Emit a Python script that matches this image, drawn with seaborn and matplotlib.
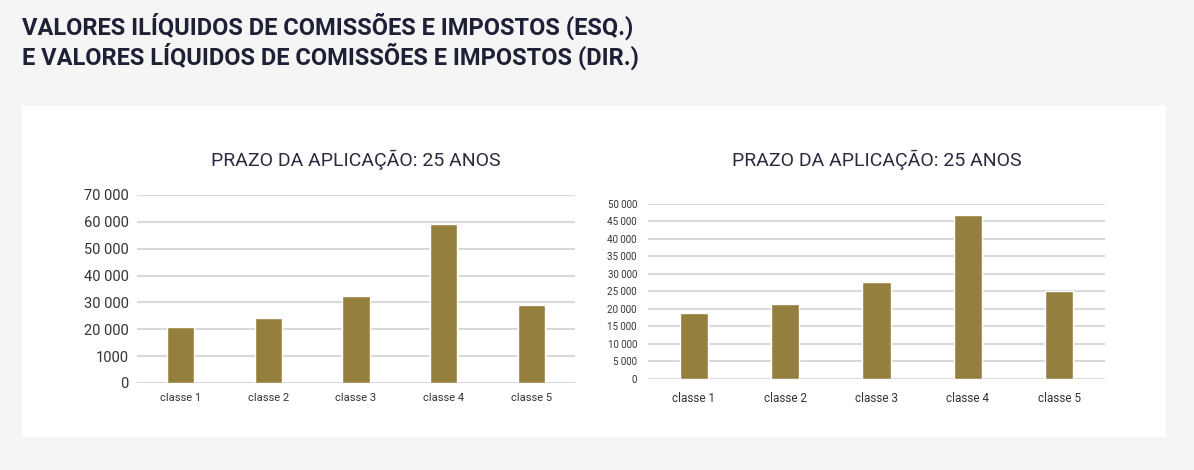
import matplotlib
matplotlib.use('Agg')
import matplotlib.pyplot as plt
import seaborn as sns
import pandas as pd
from matplotlib.patches import Rectangle

# dados
classes = ['classe 1', 'classe 2', 'classe 3', 'classe 4', 'classe 5']
iliquidos = [20800, 24100, 32300, 59100, 29200]
liquidos = [18700, 21300, 27700, 46800, 25200]

ticks_esq = [0, 10000, 20000, 30000, 40000, 50000, 60000, 70000]
labels_esq = ['0', '1000', '20 000', '30 000', '40 000', '50 000', '60 000', '70 000']
ticks_dir = list(range(0, 50001, 5000))
labels_dir = ['0', '5 000', '10 000', '15 000', '20 000', '25 000', '30 000',
              '35 000', '40 000', '45 000', '50 000']

titulo = 'VALORES ILÍQUIDOS DE COMISSÕES E IMPOSTOS (ESQ.)\nE VALORES LÍQUIDOS DE COMISSÕES E IMPOSTOS (DIR.)'
subtitulo = 'PRAZO DA APLICAÇÃO: 25 ANOS'

sns.set_theme(style='white')
plt.rcParams['font.family'] = ['Roboto', 'DejaVu Sans']

cor_barra = '#957f3e'
cor_texto = '#2a2c3e'
cor_grelha = '#d9d9d9'

fig = plt.figure(figsize=(11.94, 4.70), dpi=100)
fig.patch.set_facecolor('#f5f5f5')
fig.patches.append(Rectangle((22 / 1194, 1 - 437 / 470), (1166 - 22) / 1194, 331 / 470,
                             transform=fig.transFigure, facecolor='white',
                             edgecolor='none', zorder=-5))

fig.text(22 / 1194, 1 - 13 / 470, titulo, ha='left', va='top', fontsize=17,
         fontweight='bold', color='#1e2036', linespacing=1.1)

ax1 = fig.add_axes([137 / 1194, 1 - 383 / 470, (575 - 137) / 1194, (383 - 195) / 470])
ax2 = fig.add_axes([648 / 1194, 1 - 379 / 470, (1105 - 648) / 1194, (379 - 203.7) / 470])

# eixo, valores, ticks, rótulos, tamanho y, tamanho x, máximo, pad x, pad y
paineis = [
    (ax1, iliquidos, ticks_esq, labels_esq, 10.5, 8, 70000, 7, 6),
    (ax2, liquidos, ticks_dir, labels_dir, 7, 8.5, 50000, 9, 8),
]

for ax, valores, ticks, labels, fs_y, fs_x, ymax, pad_x, pad_y in paineis:
    df = pd.DataFrame({'classe': classes, 'valor': valores})
    sns.barplot(data=df, x='classe', y='valor', ax=ax, color=cor_barra,
                saturation=1, width=0.31, zorder=3)
    ax.set_facecolor('none')
    ax.set_xlim(-0.5, 4.5)
    ax.set_ylim(0, ymax)
    ax.set_yticks(ticks)
    ax.set_yticklabels(labels, fontsize=fs_y, color='#333333')
    ax.tick_params(axis='x', labelsize=fs_x, colors='#333333', length=0, pad=pad_x)
    ax.tick_params(axis='y', length=0, pad=pad_y)
    ax.set_xlabel('')
    ax.set_ylabel('')
    for t in ticks:
        ax.axhline(t, color=cor_grelha, lw=1.5, zorder=1)
    for s in ax.spines.values():
        s.set_visible(False)

fig.text(356 / 1194, 1 - 160 / 470, subtitulo, ha='center', va='center',
         fontsize=14, color=cor_texto)
fig.text(877 / 1194, 1 - 160 / 470, subtitulo, ha='center', va='center',
         fontsize=14, color=cor_texto)

fig.savefig('out.png', dpi=100, facecolor=fig.get_facecolor())
